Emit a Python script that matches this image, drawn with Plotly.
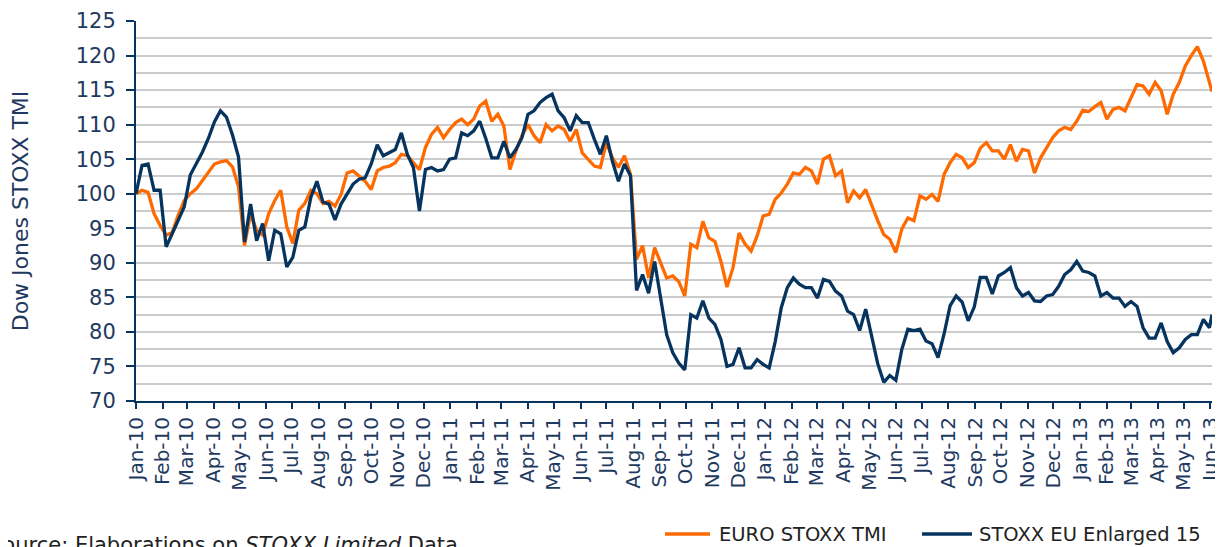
import pandas as pd
import plotly.graph_objects as go

# Weekly observation dates (Fridays from 1 Jan 2010) plus the final day shown
dates = list(pd.date_range("2010-01-01", periods=179, freq="7D")) + [pd.Timestamp("2013-06-03")]

euro_stoxx_tmi = [
    100, 100.5, 100.2, 97.1, 95.4, 94, 94.4, 96.9, 99, 100,
    100.7, 101.9, 102.9, 104.3, 104.6, 104.8, 103.9, 101, 92.5, 97.1,
    94.7, 94, 97.1, 99, 100.5, 95.2, 92.8, 97.6, 98.6, 100.5,
    100, 98.6, 98.9, 98.2, 99.9, 103, 103.3, 102.6, 101.8, 100.6,
    103.3, 103.8, 104, 104.5, 105.7, 105.5, 104.5, 103.5, 106.7, 108.6,
    109.6, 108.1, 109.3, 110.3, 110.8, 110, 110.8, 112.7, 113.4, 110.5,
    111.5, 109.8, 103.5, 106.2, 108.4, 110, 108.4, 107.4, 110, 109.1,
    109.8, 109.3, 107.6, 109.3, 105.9, 105, 104, 103.8, 107.4, 105.2,
    103.8, 105.5, 102.8, 90.5, 92.5, 87.8, 92.2, 90, 87.8, 88.1,
    87.3, 85.2, 92.7, 92.2, 96, 93.6, 93.1, 90.2, 86.5, 89.3,
    94.3, 92.7, 91.7, 93.9, 96.8, 97, 99.2, 100.1, 101.4, 103,
    102.8, 103.8, 103.3, 101.4, 105, 105.5, 102.6, 103.3, 98.7, 100.4,
    99.4, 100.6, 98.2, 96.1, 94.1, 93.4, 91.5, 94.9, 96.5, 96.1,
    99.7, 99.2, 99.9, 98.9, 102.8, 104.5, 105.7, 105.2, 103.8, 104.5,
    106.6, 107.4, 106.2, 106.2, 105, 107.1, 104.7, 106.4, 106.2, 103,
    105.2, 106.7, 108.1, 109.1, 109.6, 109.3, 110.5, 112.1, 111.9, 112.6,
    113.2, 110.8, 112.2, 112.5, 112, 113.9, 115.8, 115.6, 114.4, 116.1,
    114.9, 111.5, 114.4, 116.1, 118.5, 120, 121.3, 119.2, 116.1, 114.8,
]

stoxx_eu_enlarged_15 = [
    100, 104.1, 104.3, 100.5, 100.5, 92.3, 94.2, 96.1, 98.1, 102.7,
    104.3, 106, 108, 110.4, 112, 111.1, 108.5, 105.3, 93, 98.5,
    93.2, 95.7, 90.3, 94.7, 94.2, 89.4, 90.8, 94.7, 95.2, 99.5,
    101.8, 98.8, 98.5, 96.2, 98.5, 99.9, 101.4, 102.1, 102.3, 104.3,
    107.1, 105.5, 105.9, 106.4, 108.8, 105.7, 103.8, 97.5, 103.5, 103.8,
    103.3, 103.5, 105, 105.2, 108.8, 108.4, 109.1, 110.5, 108, 105.2,
    105.2, 107.6, 105.2, 106.4, 108.1, 111.5, 112, 113.2, 113.9, 114.4,
    112, 111, 109.1, 111.3, 110.3, 110.3, 107.9, 105.7, 108.4, 104.7,
    101.8, 104.3, 102.6, 86, 88.3, 85.6, 90.2, 84.9, 79.6, 77,
    75.5, 74.5, 82.5, 82, 84.5, 82, 81.1, 78.9, 75, 75.3,
    77.7, 74.8, 74.8, 76, 75.3, 74.8, 78.6, 83.5, 86.4, 87.8,
    86.9, 86.4, 86.4, 84.9, 87.6, 87.3, 85.9, 85.2, 83, 82.5,
    80.2, 83.3, 79.5, 75.4, 72.7, 73.7, 73, 77.5, 80.4, 80.2,
    80.4, 78.7, 78.3, 76.3, 79.7, 83.8, 85.2, 84.3, 81.6, 83.6,
    87.9, 87.9, 85.5, 88.1, 88.6, 89.3, 86.4, 85.2, 85.7, 84.5,
    84.4, 85.2, 85.4, 86.6, 88.3, 89, 90.2, 88.8, 88.6, 88.1,
    85.2, 85.7, 84.9, 84.9, 83.7, 84.4, 83.7, 80.6, 79.1, 79.1,
    81.3, 78.6, 77, 77.7, 78.9, 79.6, 79.6, 81.8, 80.6, 82.5,
]

series_names = ["EURO STOXX TMI", "STOXX EU Enlarged 15"]
y_title = "Dow Jones STOXX TMI"
source_text = "Source: Elaborations on <i>STOXX Limited</i> Data"

ORANGE = "#FF6A00"
NAVY = "#06345F"
TEXT = "#1F3A60"
DARK = "#222222"
FONT = "DejaVu Sans, Verdana, sans-serif"

# The page body adds an 8px margin, so the figure is sized to the visible window minus it.
OFF = 8
W, H = 1223 - OFF, 547 - OFF
L, T = 136 - OFF, 21 - OFF
R, B = 11, 146
PW, PH = W - L - R, H - T - B


def px_x(vx):
    # window pixel -> paper coordinate
    return (vx - OFF - L) / PW


def px_y(vy):
    return (H - B - (vy - OFF)) / PH


fig = go.Figure()
colors = [ORANGE, NAVY]
for name, vals, col in zip(series_names, [euro_stoxx_tmi, stoxx_eu_enlarged_15], colors):
    fig.add_trace(go.Scatter(x=dates, y=vals, mode="lines", name=name,
                             line=dict(color=col, width=3.3), showlegend=False))

# legend drawn by hand (long line samples as in the original)
LEG_Y = 534
legend_spec = [(665, 710, 717), (922, 972, 977)]
shapes = []
annotations = []
for (x0, x1, xt), name, col in zip(legend_spec, series_names, colors):
    shapes.append(dict(type="line", xref="paper", yref="paper",
                       x0=px_x(x0), x1=px_x(x1), y0=px_y(LEG_Y), y1=px_y(LEG_Y),
                       line=dict(color=col, width=3.5)))
    annotations.append(dict(text=name, xref="paper", yref="paper", x=px_x(xt), y=px_y(LEG_Y),
                            xanchor="left", yanchor="middle", showarrow=False,
                            font=dict(size=19.5, color=DARK, family=FONT)))

annotations.append(dict(text=source_text, xref="paper", yref="paper", x=px_x(-13), y=px_y(531),
                        xanchor="left", yanchor="top", showarrow=False,
                        font=dict(size=21, color=DARK, family=FONT)))

fig.update_layout(
    width=W, height=H,
    margin=dict(l=L, r=R, t=T, b=B, autoexpand=False),
    paper_bgcolor="white", plot_bgcolor="white",
    font=dict(family=FONT, size=18, color=TEXT),
    showlegend=False,
    shapes=shapes,
    annotations=annotations,
)

fig.update_xaxes(
    type="date", range=["2010-01-01", "2013-06-03"],
    tick0="2010-01-01", dtick="M1", tickformat="%b-%y", tickangle=-90,
    ticks="outside", ticklen=6, tickwidth=2, tickcolor=NAVY,
    showline=True, linecolor=NAVY, linewidth=2, showgrid=False, zeroline=False,
    tickfont=dict(size=20, color=TEXT),
)
fig.update_yaxes(
    range=[70, 125], tick0=70, dtick=5,
    ticks="outside", ticklen=8, tickwidth=2, tickcolor=NAVY,
    showline=True, linecolor=NAVY, linewidth=2, zeroline=False,
    showgrid=True, gridcolor="#CCCCCC", gridwidth=2,
    minor=dict(dtick=2.5, showgrid=True, gridcolor="#CCCCCC", gridwidth=2),
    tickfont=dict(size=21, color=TEXT), ticklabelstandoff=6,
    title=dict(text=y_title, font=dict(size=22, color=TEXT), standoff=50),
)

fig.write_html("out.html")
